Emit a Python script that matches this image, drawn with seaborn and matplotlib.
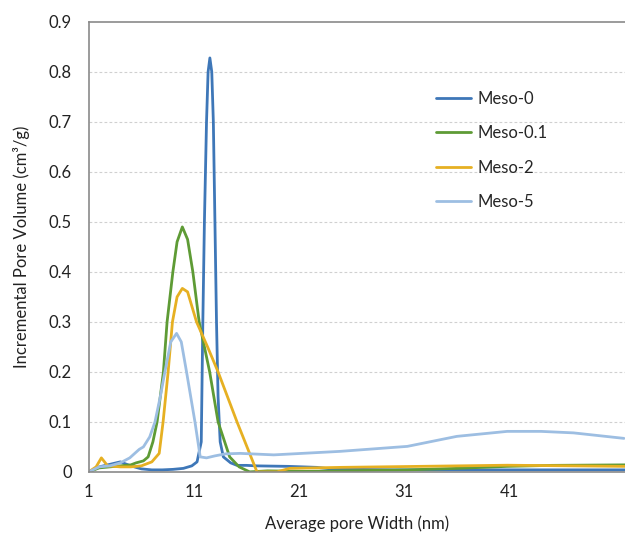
import matplotlib
matplotlib.use("Agg")
import matplotlib.pyplot as plt
import seaborn as sns
import pandas as pd

# ---- data ----
series_names = ["Meso-0", "Meso-0.1", "Meso-2", "Meso-5"]
colors = ["#3E77B8", "#5E9B35", "#E6B022", "#9DBEE2"]

x_meso0 = [1, 2, 3, 4, 5, 6, 7, 8, 9, 10, 10.8, 11.3, 11.7, 11.85, 12.0, 12.2, 12.35, 12.52,
           12.7, 12.85, 13.0, 13.15, 13.3, 13.5, 13.8, 14.5, 15.1, 16, 17, 20, 22.7, 24, 30,
           40, 52]
y_meso0 = [0, 0.01, 0.015, 0.02, 0.012, 0.006, 0.004, 0.004, 0.005, 0.007, 0.012, 0.02, 0.06,
           0.3, 0.5, 0.7, 0.8, 0.828, 0.8, 0.7, 0.5, 0.3, 0.15, 0.06, 0.03, 0.018, 0.013,
           0.013, 0.012, 0.011, 0.009, 0.006, 0.004, 0.004, 0.004]

x_meso01 = [1, 2, 3, 4, 5, 5.5, 6.2, 6.65, 7.1, 7.5, 8.1, 8.45, 9.0, 9.4, 9.9, 10.4, 10.9,
            11.5, 12.5, 13.3, 14.4, 15.3, 16.3, 18, 21.7, 25, 31.3, 36, 40.8, 45, 52]
y_meso01 = [0, 0.008, 0.01, 0.012, 0.014, 0.018, 0.022, 0.03, 0.06, 0.1, 0.2, 0.3, 0.4, 0.46,
            0.49, 0.465, 0.4, 0.3, 0.2, 0.1, 0.03, 0.01, 0, 0.002, 0.001, 0.002, 0.004, 0.007,
            0.011, 0.013, 0.014]

x_meso2 = [1, 1.7, 2.2, 2.8, 4, 5, 6, 7.0, 7.7, 8.07, 8.55, 8.96, 9.4, 9.9, 10.4, 11.25,
           12.3, 13.3, 15.1, 17.0, 18.9, 20.1, 25, 31.3, 40.8, 52]
y_meso2 = [0, 0.01, 0.028, 0.012, 0.01, 0.01, 0.012, 0.02, 0.037, 0.1, 0.2, 0.3, 0.35, 0.367,
           0.36, 0.3, 0.25, 0.2, 0.1, 0, 0, 0.007, 0.009, 0.0107, 0.0133, 0.011]

x_meso5 = [1, 2, 3, 4, 4.9, 5.8, 6.2, 6.8, 7.3, 7.8, 8.24, 8.8, 9.35, 9.8, 10.3, 11.1, 11.6,
           12.2, 13, 14, 15.4, 18.6, 24.9, 31.3, 36, 40.8, 44, 47.1, 51.9]
y_meso5 = [0, 0.01, 0.012, 0.018, 0.028, 0.045, 0.05, 0.07, 0.1, 0.15, 0.2, 0.26, 0.277, 0.26,
           0.2, 0.1, 0.03, 0.028, 0.032, 0.036, 0.037, 0.034, 0.041, 0.051, 0.071, 0.081,
           0.081, 0.078, 0.067]

x_ticks = [1, 11, 21, 31, 41]
y_ticks = [0, 0.1, 0.2, 0.3, 0.4, 0.5, 0.6, 0.7, 0.8, 0.9]
y_tick_labels = ["0", "0.1", "0.2", "0.3", "0.4", "0.5", "0.6", "0.7", "0.8", "0.9"]

frames = []
for name, xs, ys in zip(series_names,
                        [x_meso0, x_meso01, x_meso2, x_meso5],
                        [y_meso0, y_meso01, y_meso2, y_meso5]):
    frames.append(pd.DataFrame({"x": xs, "y": ys, "series": name}))
df = pd.concat(frames, ignore_index=True)

sns.set_theme(style="white")
plt.rcParams["font.family"] = ["Lato", "DejaVu Sans"]

fig = plt.figure(figsize=(6.25, 5.35), dpi=100)
ax = fig.add_axes([0.142, 0.118, 0.858, 0.841])

sns.lineplot(data=df, x="x", y="y", hue="series", hue_order=series_names,
             palette=dict(zip(series_names, colors)), sort=False,
             estimator=None, linewidth=2.0, ax=ax)
for ln in ax.get_lines():
    ln.set_solid_joinstyle("round")
    ln.set_solid_capstyle("round")

ax.set_xlim(1, 52)
ax.set_ylim(0, 0.9)
ax.set_xticks(x_ticks)
ax.set_yticks(y_ticks)
ax.set_yticklabels(y_tick_labels)
ax.tick_params(axis="both", length=0, labelsize=12, colors="#222222")
ax.tick_params(axis="y", pad=12)
ax.tick_params(axis="x", pad=9)

for yv in y_ticks[1:-1]:
    ax.axhline(yv, color="#d0d0d0", linestyle=(0, (2.5, 2)), linewidth=0.8, zorder=0)

for side in ["left", "bottom", "top"]:
    ax.spines[side].set_visible(True)
    ax.spines[side].set_color("#8a8a8a")
    ax.spines[side].set_linewidth(1.2)
ax.spines["right"].set_visible(False)

ax.set_xlabel("Average pore Width (nm)", fontsize=12, color="#222222", labelpad=11)
ax.set_ylabel("Incremental Pore Volume (cm³/g)", fontsize=12, color="#222222", labelpad=14)

handles, labels = ax.get_legend_handles_labels()
leg = ax.legend(handles, labels, loc="upper left", bbox_to_anchor=(0.62, 0.88),
                frameon=False, fontsize=12, handlelength=2.1, handletextpad=0.35,
                labelspacing=1.1)
for h in leg.get_lines():
    h.set_linewidth(2.0)

fig.savefig("out.png", dpi=100)
